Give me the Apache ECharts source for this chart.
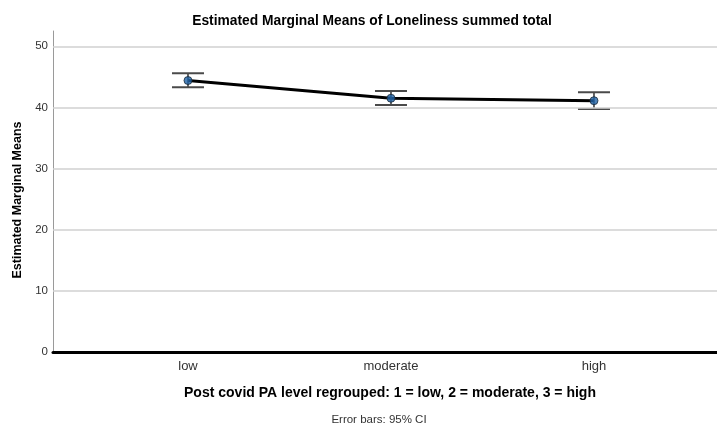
<!DOCTYPE html>
<html>
<head>
<meta charset="utf-8">
<script src="https://cdn.jsdelivr.net/npm/echarts@6/dist/echarts.min.js"></script>
<style>
  html, body { margin: 0; padding: 0; background: #fff; }
  #chart { width: 717px; height: 428px; }
</style>
</head>
<body>
<div id="chart"></div>
<script>
// Post covid PA level groups
const categories = ['low', 'moderate', 'high'];
const groupCodes = [1, 2, 3];
// Estimated marginal means of loneliness summed total
const means = [44.4, 41.5, 41.1];
// 95% confidence interval bounds
const ciLower = [43.3, 40.4, 39.75];
const ciUpper = [45.6, 42.7, 42.5];
// y-axis tick values
const yTicks = [0, 10, 20, 30, 40, 50];

const FONT = '"Liberation Sans", Arial, sans-serif';

const chart = echarts.init(document.getElementById('chart'), null, { renderer: 'canvas' });

const lineData = groupCodes.map((c, i) => [c, means[i]]);
const barData = groupCodes.map((c, i) => [c, ciLower[i], ciUpper[i]]);

chart.setOption({
  animation: false,
  backgroundColor: '#ffffff',
  title: {
    text: 'Estimated Marginal Means of Loneliness summed total',
    left: 367, top: 9, textAlign: 'center',
    textStyle: { fontFamily: FONT, fontSize: 13.8, fontWeight: 'bold', color: '#000' }
  },
  grid: { left: 53, right: 0, top: 31, bottom: 76 },
  xAxis: {
    type: 'value',
    min: 0.335, max: 3.606,
    name: 'Post covid PA level regrouped: 1 = low, 2 = moderate, 3 = high',
    nameLocation: 'middle',
    nameGap: 34,
    nameTextStyle: { fontFamily: FONT, fontSize: 14, fontWeight: 'bold', color: '#000', padding: [0, 0, 0, 10] },
    axisLine: { show: true, onZero: true, lineStyle: { color: '#000', width: 3 } },
    axisTick: { show: false },
    splitLine: { show: false },
    axisLabel: {
      customValues: groupCodes,
      formatter: v => categories[groupCodes.indexOf(v)] || '',
      margin: 8,
      fontFamily: FONT, fontSize: 13, color: '#333'
    }
  },
  yAxis: {
    type: 'value',
    min: 0, max: 52.5,
    name: 'Estimated Marginal Means',
    nameLocation: 'middle',
    nameGap: 28,
    nameTextStyle: { fontFamily: FONT, fontSize: 12.5, fontWeight: 'bold', color: '#000', padding: [0, 17, 0, 0] },
    axisLine: { show: true, lineStyle: { color: '#9a9a9a', width: 1 } },
    axisTick: { show: false },
    splitLine: { show: false },
    axisLabel: {
      customValues: yTicks,
      margin: 5,
      fontFamily: FONT, fontSize: 11.5, color: '#333'
    }
  },
  graphic: [{
    type: 'text',
    x: 379, y: 414,
    style: { text: 'Error bars: 95% CI', align: 'center', fontFamily: FONT, fontSize: 11.5, fill: '#333' }
  }],
  series: [
    {
      // horizontal reference lines at the y ticks
      type: 'line',
      data: [],
      silent: true,
      markLine: {
        symbol: 'none',
        label: { show: false },
        lineStyle: { color: '#d0d0d0', width: 1.5, type: 'solid' },
        data: yTicks.filter(v => v > 0).map(v => ({ yAxis: v }))
      }
    },
    {
      type: 'line',
      data: lineData,
      symbol: 'none',
      lineStyle: { color: '#000', width: 3 },
      z: 3
    },
    {
      // 95% CI error bars
      type: 'custom',
      data: barData,
      z: 4,
      renderItem: (params, api) => {
        const x = api.value(0);
        const lo = api.coord([x, api.value(1)]);
        const hi = api.coord([x, api.value(2)]);
        const half = 16;
        const style = { stroke: '#4a4a4a', lineWidth: 2 };
        return {
          type: 'group',
          children: [
            { type: 'line', shape: { x1: lo[0], y1: lo[1], x2: hi[0], y2: hi[1] }, style: { stroke: '#333', lineWidth: 1.5 } },
            { type: 'line', shape: { x1: hi[0] - half, y1: hi[1], x2: hi[0] + half, y2: hi[1] }, style },
            { type: 'line', shape: { x1: lo[0] - half, y1: lo[1], x2: lo[0] + half, y2: lo[1] }, style }
          ]
        };
      }
    },
    {
      type: 'scatter',
      data: lineData,
      symbol: 'circle',
      symbolSize: 8,
      itemStyle: { color: '#1f63a8', borderColor: '#1a2a3a', borderWidth: 1 },
      z: 5
    }
  ]
});
</script>
</body>
</html>
